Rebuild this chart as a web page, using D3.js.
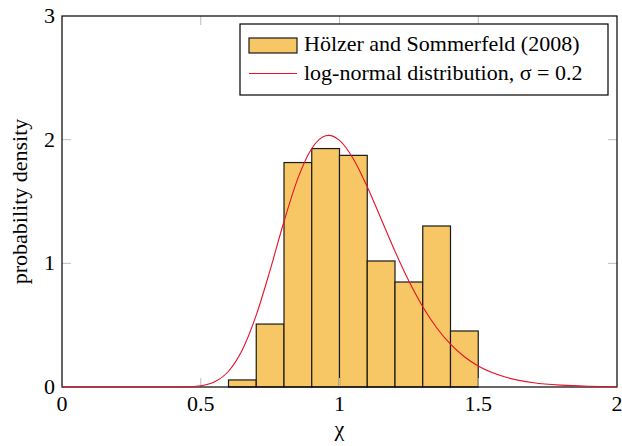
<!DOCTYPE html>
<html>
<head>
<meta charset="utf-8">
<script src="https://cdn.jsdelivr.net/npm/d3@7"></script>
</head>
<body style="margin:0">
<svg id="chart" width="622" height="446"></svg>
<script>
// Histogram bins (left edges) and densities
const binStarts = [0.6, 0.7, 0.8, 0.9, 1.0, 1.1, 1.2, 1.3, 1.4];
const binWidth = 0.1;
const densities = [0.057, 0.509, 1.815, 1.928, 1.873, 1.019, 0.849, 1.302, 0.453];

// Log-normal density curve (σ = 0.2), sampled points
const curveX = [0, 0.4, 0.45, 0.5, 0.55, 0.6, 0.65, 0.7, 0.75, 0.8, 0.85, 0.9, 0.95, 0.961,
                1.0, 1.05, 1.1, 1.15, 1.2, 1.25, 1.3, 1.35, 1.4, 1.45, 1.5, 1.6, 1.7, 1.8, 1.9, 2.0];
const curveY = [0, 0.0001, 0.0015, 0.0098, 0.0416, 0.1274, 0.3016, 0.5811, 0.9453, 1.3382, 1.6868,
                1.9291, 2.0317, 2.0350, 1.9947, 1.8441, 1.6188, 1.3587, 1.0971, 0.8565, 0.6491,
                0.4793, 0.3461, 0.2449, 0.1703, 0.0788, 0.0348, 0.0148, 0.0061, 0.0025];

const xTicks = [0, 0.5, 1, 1.5, 2];
const xTickLabels = ["0", "0.5", "1", "1.5", "2"];
const yTicks = [0, 1, 2, 3];
const yTickLabels = ["0", "1", "2", "3"];

const legendLabels = ["Hölzer and Sommerfeld (2008)", "log-normal distribution, σ = 0.2"];

const barFill = "#f7c766";
const barStroke = "#1a1a1a";
const lineColor = "#e8102a";
const fontFamily = '"Liberation Serif"';
const fontSize = "22px";

const svg = d3.select("#chart");
const plotL = 62, plotR = 617, plotT = 16, plotB = 387;

const x = d3.scaleLinear().domain([0, 2]).range([plotL, plotR]);
const y = d3.scaleLinear().domain([0, 3]).range([plotB, plotT]);

function setFont(sel) {
  return sel.style("font-family", fontFamily).style("font-size", fontSize);
}

// Bars
svg.append("g")
  .selectAll("rect")
  .data(binStarts.map((s, i) => ({ s, v: densities[i] })))
  .join("rect")
  .attr("x", d => x(d.s))
  .attr("y", d => y(d.v))
  .attr("width", d => x(d.s + binWidth) - x(d.s))
  .attr("height", d => y(0) - y(d.v))
  .attr("fill", barFill)
  .attr("stroke", barStroke)
  .attr("stroke-width", 1.2);

// Density curve generator
const line = d3.line()
  .x((d, i) => x(curveX[i]))
  .y(d => y(d))
  .curve(d3.curveMonotoneX);

// Inner tick marks on all four sides
const tickLen = 9;
const tickColor = "#bdbdbd";
const innerX = xTicks.filter(t => t > 0 && t < 2);
const innerY = yTicks.filter(t => t > 0 && t < 3);
const tg = svg.append("g").attr("stroke", tickColor).attr("stroke-width", 1);
innerX.forEach(t => {
  tg.append("line").attr("x1", x(t)).attr("x2", x(t)).attr("y1", plotB).attr("y2", plotB - tickLen);
  tg.append("line").attr("x1", x(t)).attr("x2", x(t)).attr("y1", plotT).attr("y2", plotT + tickLen);
});
innerY.forEach(t => {
  tg.append("line").attr("y1", y(t)).attr("y2", y(t)).attr("x1", plotL).attr("x2", plotL + tickLen);
  tg.append("line").attr("y1", y(t)).attr("y2", y(t)).attr("x1", plotR).attr("x2", plotR - tickLen);
});

// Frame
svg.append("rect")
  .attr("x", plotL).attr("y", plotT)
  .attr("width", plotR - plotL).attr("height", plotB - plotT)
  .attr("fill", "none").attr("stroke", "#000").attr("stroke-width", 1.2);

// Curve over bars and frame
svg.append("path")
  .datum(curveY)
  .attr("d", line)
  .attr("fill", "none")
  .attr("stroke", lineColor)
  .attr("stroke-width", 1.1);

// Tick labels placed with the scales
setFont(svg.append("g").selectAll("text")
  .data(xTicks)
  .join("text"))
  .attr("x", d => x(d))
  .attr("y", plotB + 24)
  .attr("text-anchor", "middle")
  .text((d, i) => xTickLabels[i]);

setFont(svg.append("g").selectAll("text")
  .data(yTicks)
  .join("text"))
  .attr("x", plotL - 7)
  .attr("y", d => y(d))
  .attr("dy", "0.32em")
  .attr("text-anchor", "end")
  .text((d, i) => yTickLabels[i]);

// Axis titles
setFont(svg.append("text"))
  .attr("x", x(1)).attr("y", 436)
  .attr("text-anchor", "middle")
  .text("χ");

setFont(svg.append("text"))
  .attr("transform", `translate(27,${(plotT + plotB) / 2}) rotate(-90)`)
  .attr("text-anchor", "middle")
  .text("probability density");

// Legend
const lg = svg.append("g");
lg.append("rect")
  .attr("x", 240).attr("y", 24).attr("width", 368).attr("height", 71)
  .attr("fill", "#fff").attr("stroke", "#000").attr("stroke-width", 1.2);
lg.append("rect")
  .attr("x", 249).attr("y", 38).attr("width", 48).attr("height", 15)
  .attr("fill", barFill).attr("stroke", barStroke).attr("stroke-width", 1.2);
lg.append("line")
  .attr("x1", 249).attr("x2", 297).attr("y1", 73.5).attr("y2", 73.5)
  .attr("stroke", lineColor).attr("stroke-width", 1.1);
legendLabels.forEach((label, i) =>
  setFont(lg.append("text")).attr("x", 304).attr("y", 51 + i * 29).text(label));
</script>
</body>
</html>
